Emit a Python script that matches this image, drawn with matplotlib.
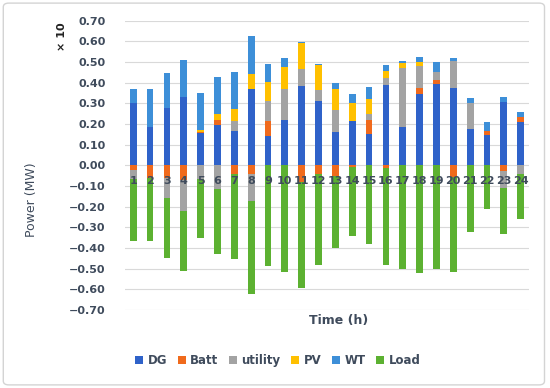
import matplotlib.pyplot as plt
from matplotlib.patches import FancyBboxPatch
import numpy as np

hours = list(range(1, 25))
# signed values: positive = supply, negative = consumption
dg = [0.303, 0.187, 0.276, 0.332, 0.155, 0.195, 0.166, 0.368, 0.144, 0.219, 0.384, 0.313,
      0.160, 0.216, 0.152, 0.387, 0.184, 0.345, 0.394, 0.376, 0.174, 0.147, 0.305, 0.208]
batt = [-0.024, -0.061, -0.061, -0.069, 0.008, 0.024, -0.044, -0.040, 0.068, 0.0, -0.081, -0.040,
        -0.053, -0.008, 0.068, -0.011, 0.0, 0.031, 0.019, -0.056, 0.0, 0.019, -0.027, 0.027]
utility = [-0.040, 0.0, -0.097, -0.152, -0.065, -0.116, 0.048, -0.132, 0.097, 0.148, 0.082, 0.052,
           0.108, 0.0, 0.027, 0.035, 0.287, 0.105, 0.040, 0.129, 0.126, 0.0, -0.081, -0.040]
pv = [0.0, 0.0, 0.0, 0.0, 0.008, 0.027, 0.056, 0.074, 0.095, 0.110, 0.124, 0.119,
      0.103, 0.087, 0.073, 0.032, 0.023, 0.019, 0.0, 0.0, 0.0, 0.0, 0.0, 0.0]
wt = [0.065, 0.181, 0.169, 0.178, 0.177, 0.180, 0.182, 0.184, 0.086, 0.042, 0.008, 0.005,
      0.029, 0.041, 0.057, 0.030, 0.009, 0.023, 0.047, 0.013, 0.027, 0.044, 0.027, 0.021]
load = [0.302, 0.305, 0.289, 0.290, 0.285, 0.311, 0.408, 0.452, 0.489, 0.516, 0.511, 0.444,
        0.347, 0.334, 0.379, 0.470, 0.503, 0.521, 0.500, 0.462, 0.324, 0.210, 0.223, 0.218]

series = [("DG", dg, "#2f62c9"), ("Batt", batt, "#f06a1c"), ("utility", utility, "#a3a3a3"),
          ("PV", pv, "#ffc000"), ("WT", wt, "#3d8fd8"), ("Load", [-v for v in load], "#5cb131")]

txt = "#3f4b5c"
fig = plt.figure(figsize=(5.5, 3.88), dpi=100)
ax = fig.add_axes([0.227, 0.201, 0.735, 0.746])

x = np.array(hours)
pos_bottom = np.zeros(24)
neg_bottom = np.zeros(24)
handles = []
for name, vals, col in series:
    v = np.array(vals)
    p = np.clip(v, 0, None)
    n = np.clip(v, None, 0)
    h = ax.bar(x, p, 0.4, bottom=pos_bottom, color=col, label=name, zorder=3)
    ax.bar(x, n, 0.4, bottom=neg_bottom, color=col, zorder=3)
    pos_bottom += p
    neg_bottom += n
    handles.append(h)

ax.set_xlim(0.5, 24.5)
ax.set_ylim(-0.7, 0.7)
yt = np.round(np.arange(-0.7, 0.71, 0.1), 2)
ax.set_yticks(yt)
ax.set_yticklabels([f"{v:.2f}".replace("-", "\u2212") if v != 0 else "0.00" for v in yt])
ax.grid(axis="y", color="#d9d9d9", linewidth=0.8, zorder=0)
for s in ax.spines.values():
    s.set_visible(False)
ax.tick_params(length=0, labelsize=8, labelcolor=txt)
for lab in ax.get_yticklabels():
    lab.set_fontweight("bold")
ax.tick_params(axis="y", pad=14)

ax.set_xticks(x)
ax.set_xticklabels([])
for h in hours:
    ax.text(h, -0.05, str(h), ha="center", va="top", fontsize=8, fontweight="bold", color=txt, zorder=5)

fig.text(0.058, 0.485, "Power (MW)", rotation=90, ha="center", va="center", fontsize=9, color=txt)
fig.text(0.113, 0.905, "\u00d7 10", rotation=90, ha="center", va="center", fontsize=8, fontweight="bold", color="#222222")
fig.text(0.615, 0.175, "Time (h)", ha="center", va="center", fontsize=9, fontweight="bold", color=txt)

leg = fig.legend(handles=handles, loc="center", bbox_to_anchor=(0.505, 0.07), ncol=6, frameon=False,
                 handlelength=0.7, handleheight=0.7, handletextpad=0.35, columnspacing=0.9,
                 prop={"size": 8.5, "weight": "bold"})
for t in leg.get_texts():
    t.set_color(txt)

fig.patches.append(FancyBboxPatch((0.006, 0.008), 0.984, 0.984, boxstyle="round,pad=0,rounding_size=0.01",
                                  transform=fig.transFigure, facecolor="none", edgecolor="#d4d4d4", linewidth=1))

fig.savefig("out.png", dpi=100)
